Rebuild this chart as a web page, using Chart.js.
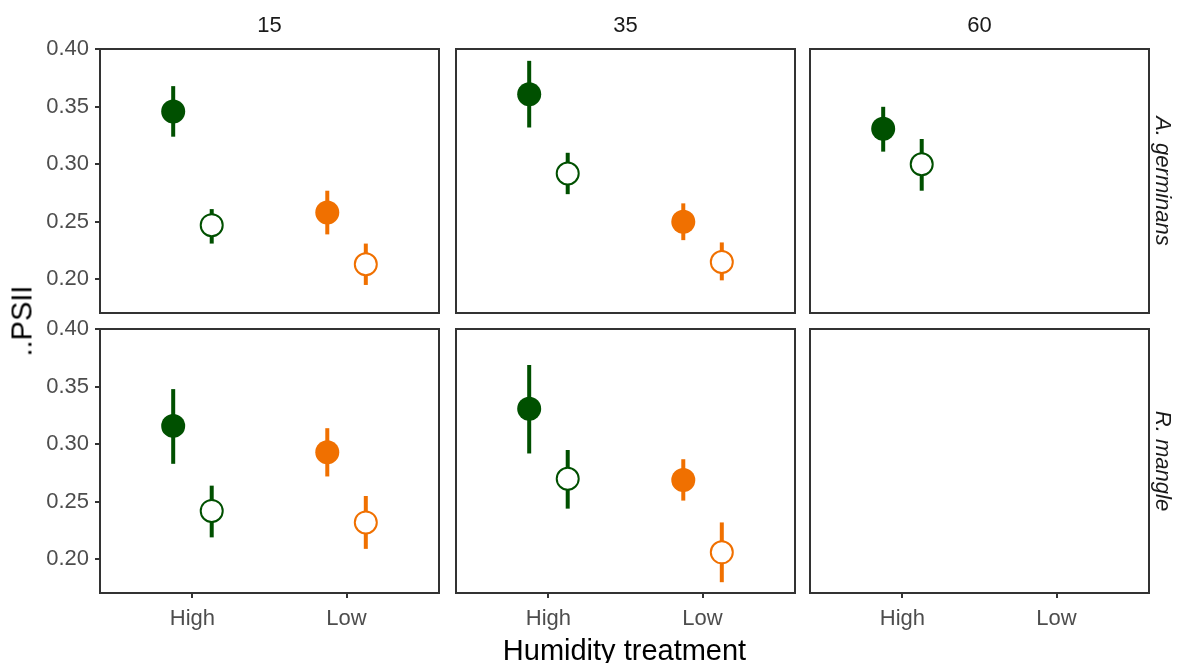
<!DOCTYPE html>
<html><head><meta charset="utf-8">
<script src="https://cdn.jsdelivr.net/npm/chart.js@4.4.1/dist/chart.umd.min.js"></script>
<style>
html,body{margin:0;padding:0;background:#fff;}
#wrap{position:relative;width:1182px;height:663px;overflow:hidden;background:#fff;font-family:"Liberation Sans",Arial,sans-serif;}
#wrap canvas{position:absolute;}
.lbl{position:absolute;white-space:nowrap;}
</style></head><body>
<div id="wrap"></div>
<script>
// ---------- data ----------
const columns = ['15', '35', '60'];
const species = ['A. germinans', 'R. mangle'];
const categories = ['High', 'Low'];
const yTicks = [0.20, 0.25, 0.30, 0.35, 0.40];
const xTitle = 'Humidity treatment';
const yTitle = '..PSII';

// indexed [column][category]
const agSolidMean = [[0.346, 0.258], [0.361, 0.250], [0.331, null]];
const agSolidLo   = [[0.324, 0.239], [0.332, 0.234], [0.311, null]];
const agSolidHi   = [[0.368, 0.277], [0.390, 0.266], [0.350, null]];
const agOpenMean  = [[0.247, 0.213], [0.292, 0.215], [0.300, null]];
const agOpenLo    = [[0.231, 0.195], [0.274, 0.199], [0.277, null]];
const agOpenHi    = [[0.261, 0.231], [0.310, 0.232], [0.322, null]];

const rmSolidMean = [[0.316, 0.293], [0.331, 0.269], [null, null]];
const rmSolidLo   = [[0.283, 0.272], [0.292, 0.251], [null, null]];
const rmSolidHi   = [[0.348, 0.314], [0.369, 0.287], [null, null]];
const rmOpenMean  = [[0.242, 0.232], [0.270, 0.206], [null, null]];
const rmOpenLo    = [[0.219, 0.209], [0.244, 0.180], [null, null]];
const rmOpenHi    = [[0.264, 0.255], [0.295, 0.232], [null, null]];

// ---------- style / layout ----------
const catColors = ['#005000', '#f07000'];
const FONT = '"Liberation Sans", Arial, sans-serif';
const colLeft = [100, 456, 810];
const rowTop = [49, 329];
const PW = 339, PH = 264;
const PAD = 26;
const DODGE = 0.125;
const Y_MIN = 0.1706, Y_MAX = 0.4003;

Chart.defaults.font.family = FONT;
Chart.defaults.font.size = 22;

const wrap = document.getElementById('wrap');

const borderPlugin = {
  id: 'panelBorder',
  afterDraw(chart) {
    const { ctx, chartArea: a } = chart;
    ctx.save();
    ctx.strokeStyle = '#333333';
    ctx.lineWidth = 2;
    ctx.strokeRect(a.left, a.top, a.right - a.left, a.bottom - a.top);
    ctx.restore();
  }
};

const rowData = [
  { sm: agSolidMean, sl: agSolidLo, sh: agSolidHi, om: agOpenMean, ol: agOpenLo, oh: agOpenHi },
  { sm: rmSolidMean, sl: rmSolidLo, sh: rmSolidHi, om: rmOpenMean, ol: rmOpenLo, oh: rmOpenHi }
];

function makePanel(r, c) {
  const L = colLeft[c], T = rowTop[r];
  const showY = c === 0, showX = r === 1;
  const yW = showY ? 70 : 0, xH = showX ? 50 : 0;
  const cw = PAD + yW + PW + PAD, ch = PAD + PH + xH + PAD;
  const canvas = document.createElement('canvas');
  canvas.width = cw; canvas.height = ch;
  canvas.style.left = (L - yW - PAD) + 'px';
  canvas.style.top = (T - PAD) + 'px';
  canvas.style.width = cw + 'px';
  canvas.style.height = ch + 'px';
  wrap.appendChild(canvas);

  const d = rowData[r];
  const series = [
    { mean: d.sm[c], lo: d.sl[c], hi: d.sh[c], dx: -DODGE, filled: true },
    { mean: d.om[c], lo: d.ol[c], hi: d.oh[c], dx: DODGE, filled: false }
  ];
  const datasets = [];
  series.forEach(s => {
    const pts = [], bg = [], bc = [];
    categories.forEach((cat, i) => {
      if (s.mean[i] == null) return;
      const x = i + 1 + s.dx;
      datasets.push({
        type: 'line', showLine: true,
        data: [{ x: x, y: s.lo[i] }, { x: x, y: s.hi[i] }],
        borderColor: catColors[i], borderWidth: 4, borderCapStyle: 'butt',
        pointRadius: 0, pointHoverRadius: 0, order: 3
      });
      pts.push({ x: x, y: s.mean[i] });
      bc.push(catColors[i]);
      bg.push(s.filled ? catColors[i] : '#ffffff');
    });
    if (pts.length) {
      datasets.push({
        type: 'scatter', showLine: false, data: pts,
        pointRadius: s.filled ? 12 : 11,
        pointHoverRadius: s.filled ? 12 : 11,
        pointBackgroundColor: bg, pointBorderColor: bc,
        pointBorderWidth: s.filled ? 0 : 2,
        order: s.filled ? 1 : 0
      });
    }
  });

  const tickGrid = { drawOnChartArea: false, drawTicks: true, tickLength: 5, color: '#333333', lineWidth: 2 };

  new Chart(canvas, {
    type: 'scatter',
    data: { datasets },
    options: {
      responsive: false, animation: false, events: [],
      devicePixelRatio: 1,
      layout: { padding: { left: PAD, right: PAD, top: PAD, bottom: PAD } },
      plugins: { legend: { display: false }, tooltip: { enabled: false } },
      scales: {
        x: {
          type: 'linear', min: 0.4, max: 2.6, display: showX,
          afterBuildTicks: s => { s.ticks = categories.map((_, i) => ({ value: i + 1 })); },
          afterFit: s => { s.height = xH; },
          ticks: {
            callback: v => categories[Math.round(v) - 1] || '',
            color: '#4d4d4d', font: { size: 22 }, padding: 8, maxRotation: 0, autoSkip: false
          },
          grid: tickGrid, border: { display: false }
        },
        y: {
          type: 'linear', min: Y_MIN, max: Y_MAX, display: showY,
          afterBuildTicks: s => { s.ticks = yTicks.map(v => ({ value: v })); },
          afterFit: s => { s.width = yW; },
          ticks: {
            callback: v => Number(v).toFixed(2),
            color: '#4d4d4d', font: { size: 22 }, padding: 6, autoSkip: false
          },
          grid: tickGrid, border: { display: false }
        }
      }
    },
    plugins: [borderPlugin]
  });
}

for (let r = 0; r < 2; r++) for (let c = 0; c < 3; c++) makePanel(r, c);

function addText(text, cx, cy, size, color, rot, italic) {
  const el = document.createElement('div');
  el.className = 'lbl';
  el.textContent = text;
  el.style.fontSize = size + 'px';
  el.style.lineHeight = size + 'px';
  el.style.color = color;
  el.style.left = cx + 'px';
  el.style.top = cy + 'px';
  if (italic) el.style.fontStyle = 'italic';
  el.style.transform = 'translate(-50%,-50%) rotate(' + rot + 'deg)';
  wrap.appendChild(el);
}

columns.forEach((t, c) => addText(t, colLeft[c] + PW / 2, 25, 22, '#1a1a1a', 0, false));
species.forEach((t, r) => addText(t, 1163, rowTop[r] + PH / 2, 22, '#1a1a1a', 90, true));
addText(xTitle, (colLeft[0] + colLeft[2] + PW) / 2, 650, 29, '#000000', 0, false);
addText(yTitle, 21.5, (rowTop[0] + rowTop[1] + PH) / 2, 29, '#000000', -90, false);
</script>
</body></html>
